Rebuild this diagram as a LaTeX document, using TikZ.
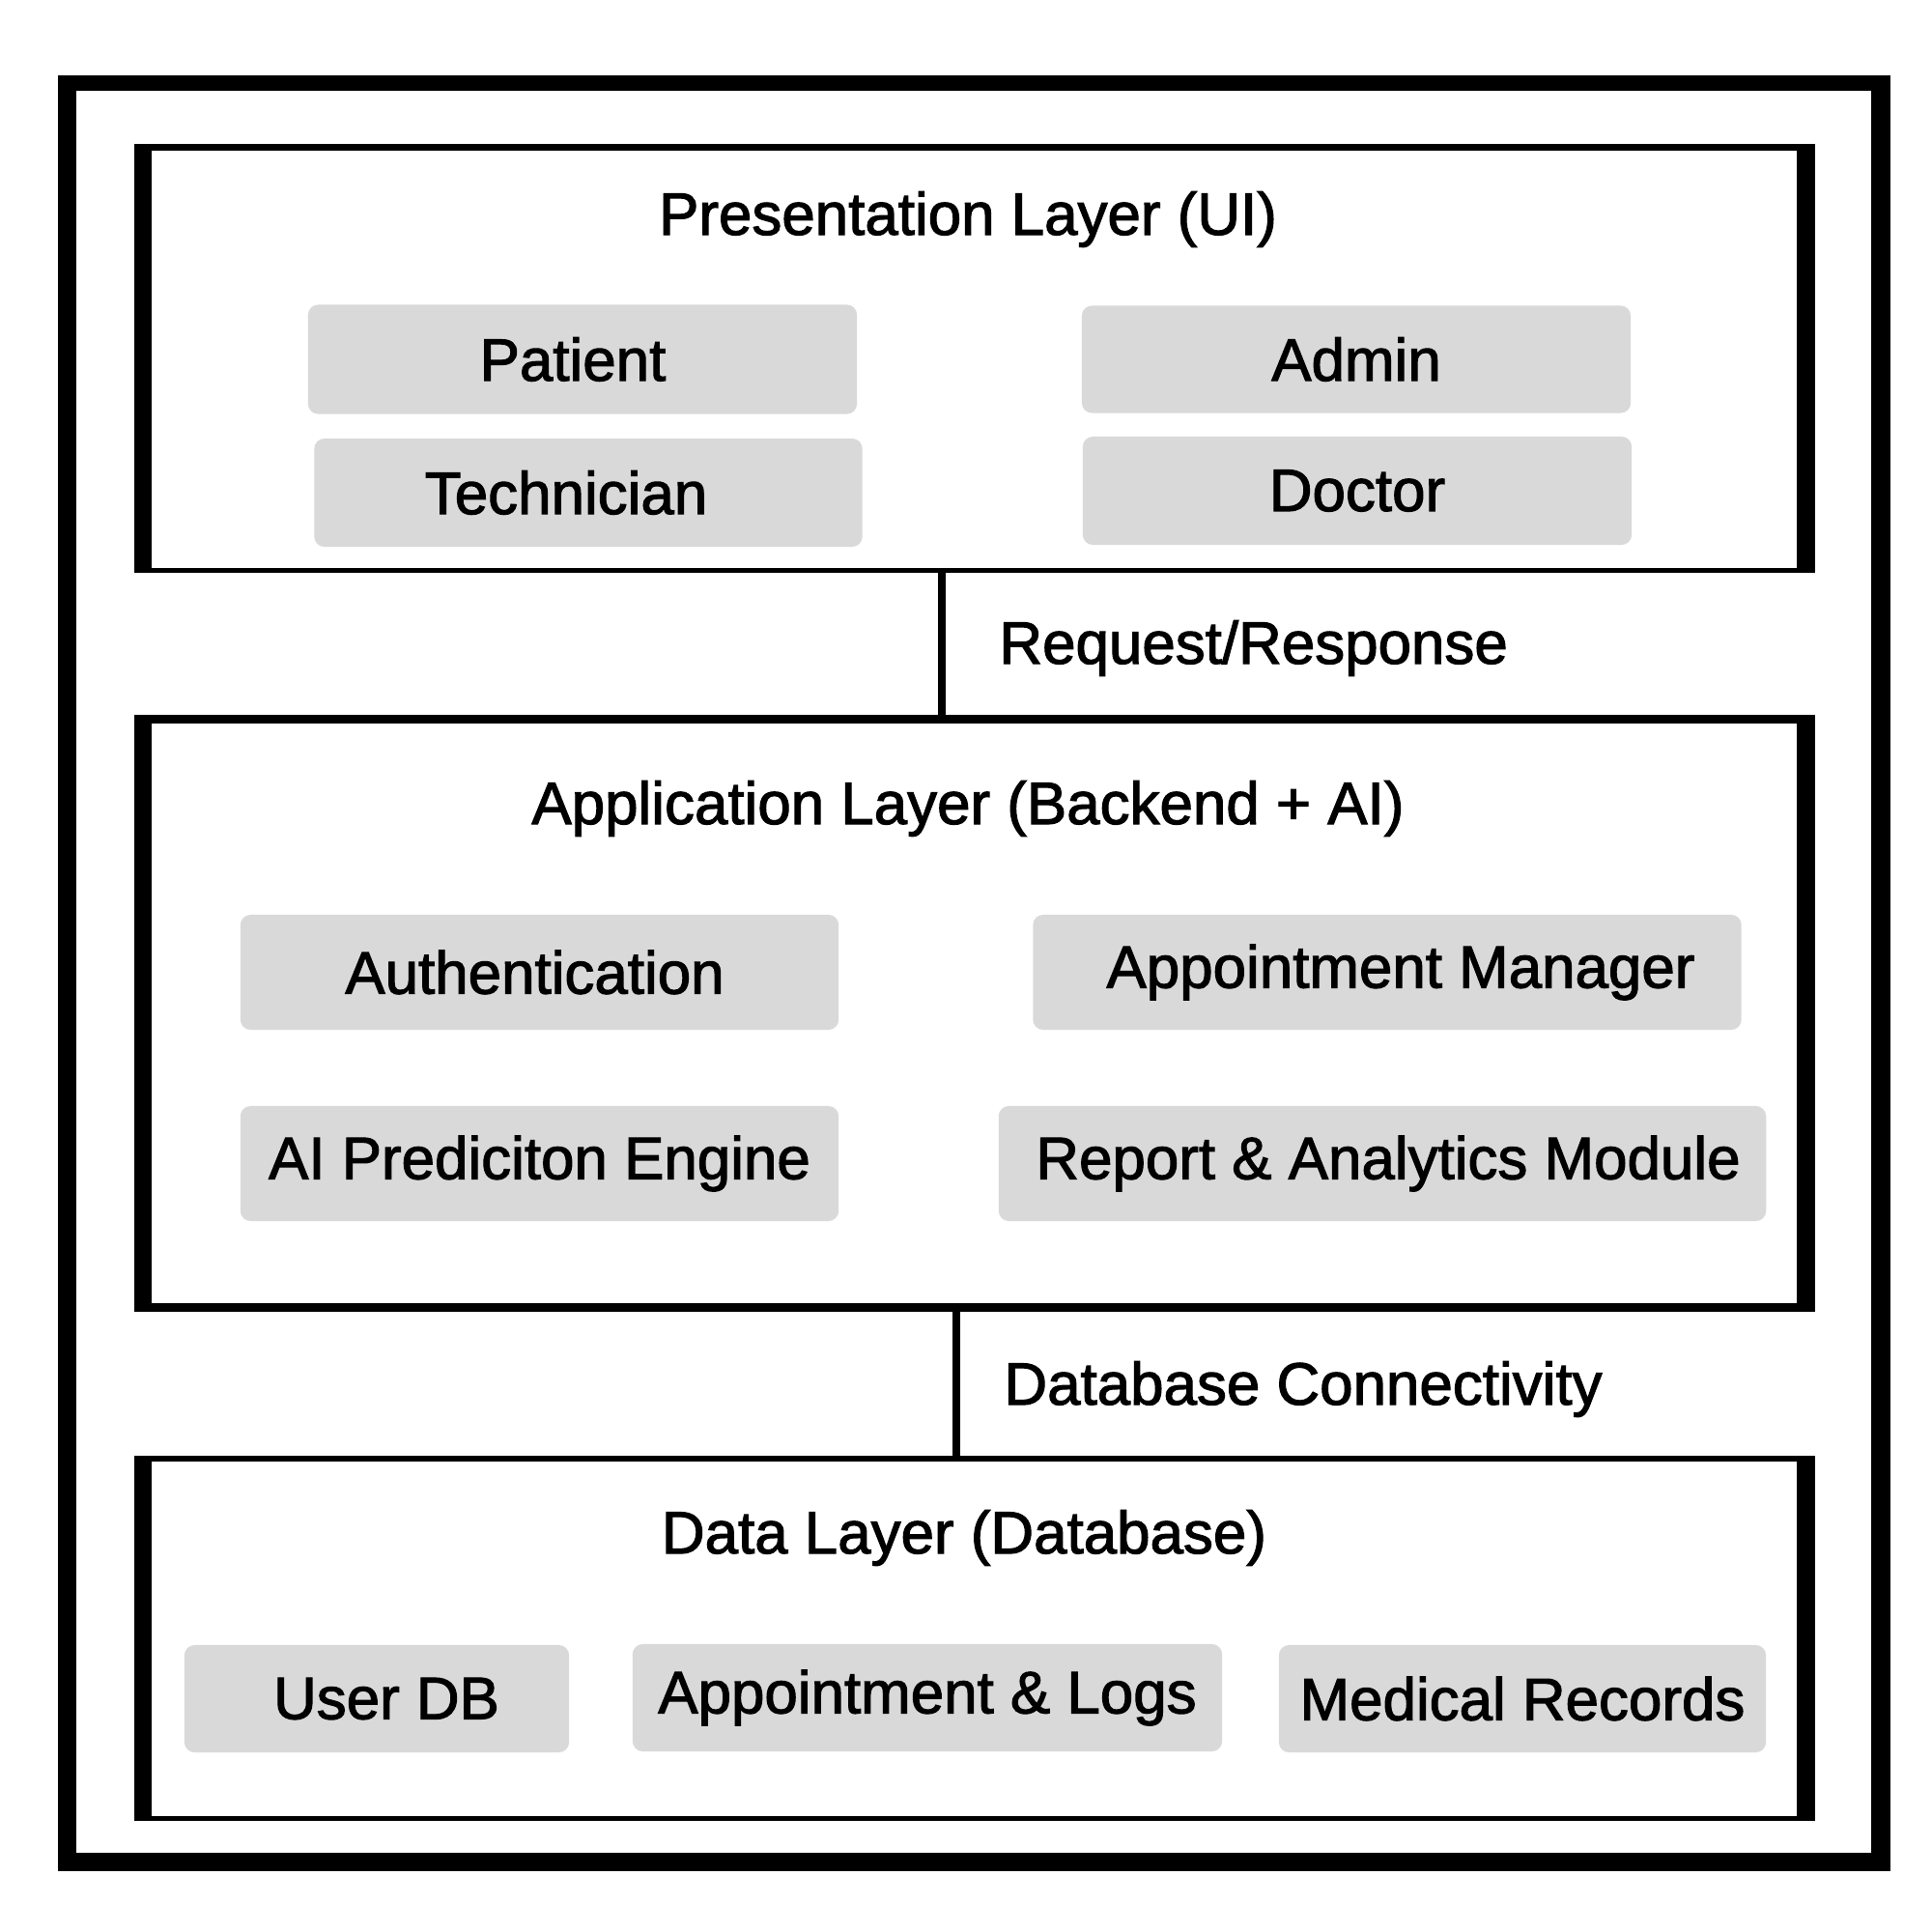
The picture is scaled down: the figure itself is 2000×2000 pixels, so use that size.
\documentclass[tikz,border=0pt]{standalone}
\usepackage{fontspec}
\setmainfont{Liberation Sans}
\newfontfamily\diagfont{Liberation Sans}[FakeBold=1.8]
\usetikzlibrary{calc}

\definecolor{boxgray}{HTML}{D9D9D9}

\tikzset{
  layer/.style={fill=black, inner sep=0pt},
  unit/.style={fill=boxgray, rounded corners=3pt, inner sep=0pt},
  nudge/.style={execute at begin node={\hspace*{#1}}},
  link/.style={line width=2.1pt},
  every node/.style={font=\diagfont\fontsize{17.6}{20}\selectfont}
}

\begin{document}
\begin{tikzpicture}[x=0.01cm, y=-0.01cm]

\useasboundingbox (0,0) rectangle (2000,2000);

% outer frame
\node[layer, minimum width=18.95cm, minimum height=18.57cm] (frame) at (1008.5,1007.5) {};
\path[fill=white] ($(frame.north west)+(19,16)$) rectangle ($(frame.south east)+(-20,-19)$);

%%%%%%%%%%%%%%%%%%%%%%%%%%%%%%%%%%%%%%%%%%%%%%%%%%%%%%%%%%%%%%%%%%%%%%%%%%%%%%%%%%%
\node[layer, minimum width=17.38cm, minimum height=4.44cm] (pres) at (1009,371) {};
\path[fill=white] ($(pres.north west)+(18,8)$) rectangle ($(pres.south east)+(-19,-6)$);

\node (prestitle) at (1002,227) {Presentation Layer (UI)};

\node[unit, nudge=-0.2cm, minimum width=5.68cm, minimum height=1.13cm] (patient) at (603,372) {Patient};
\node[unit, nudge=-0.46cm, minimum width=5.67cm, minimum height=1.12cm] (technician) at (609,510) {Technician};
\node[unit, minimum width=5.68cm, minimum height=1.11cm] (admin) at (1404,372) {Admin};
\node[unit, minimum width=5.68cm, minimum height=1.12cm] (doctor) at (1405,508) {Doctor};

%%%%%%%%%%%%%%%%%%%%%%%%%%%%%%%%%%%%%%%%%%%%%%%%%%%%%%%%%%%%%%%%%%%%%%%%%%%%%%%%%%%
\node[layer, minimum width=17.38cm, minimum height=6.18cm] (app) at (1009,1049) {};
\path[fill=white] ($(app.north west)+(18,10)$) rectangle ($(app.south east)+(-19,-10)$);

\node (apptitle) at (1002,837) {Application Layer (Backend + AI)};

\node[unit, nudge=-0.1cm, minimum width=6.19cm, minimum height=1.19cm] (auth) at (558.5,1006.5) {Authentication};
\node[unit, nudge=0.28cm, minimum width=7.33cm, minimum height=1.19cm] (apptman) at (1436,1006.5) {Appointment Manager};
\node[unit, minimum width=6.19cm, minimum height=1.19cm] (aiengine) at (558.5,1204.5) {AI Prediciton Engine};
\node[unit, nudge=0.12cm, minimum width=7.94cm, minimum height=1.19cm] (report) at (1431,1204.5) {Report \& Analytics Module};

%%%%%%%%%%%%%%%%%%%%%%%%%%%%%%%%%%%%%%%%%%%%%%%%%%%%%%%%%%%%%%%%%%%%%%%%%%%%%%%%%%%
\node[layer, minimum width=17.38cm, minimum height=3.78cm] (data) at (1009,1696) {};
\path[fill=white] ($(data.north west)+(18,7)$) rectangle ($(data.south east)+(-19,-6)$);

\node (datatitle) at (998,1592) {Data Layer (Database)};

\node[unit, nudge=0.2cm, minimum width=3.98cm, minimum height=1.11cm] (userdb) at (390,1758.5) {User DB};
\node[unit, minimum width=6.10cm, minimum height=1.11cm] (logs) at (960,1757.5) {Appointment \& Logs};
\node[unit, minimum width=5.04cm, minimum height=1.11cm] (records) at (1576,1758.5) {Medical Records};

%%%%%%%%%%%%%%%%%%%%%%%%%%%%%%%%%%%%%%%%%%%%%%%%%%%%%%%%%%%%%%%%%%%%%%%%%%%%%%%%%%%
\coordinate (upper) at (975,0);
\coordinate (lower) at (990,0);

\draw[link] ($(pres.south -| upper)+(0,-6)$) -- ($(app.north -| upper)+(0,8)$);
\node[anchor=west] (reqlabel) at (1022,671) {Request/Response};

\draw[link] ($(app.south -| lower)+(0,-8)$) -- ($(data.north -| lower)+(0,6)$);
\node[anchor=west] (dblabel) at (1027,1438) {Database Connectivity};

\end{tikzpicture}
\end{document}
